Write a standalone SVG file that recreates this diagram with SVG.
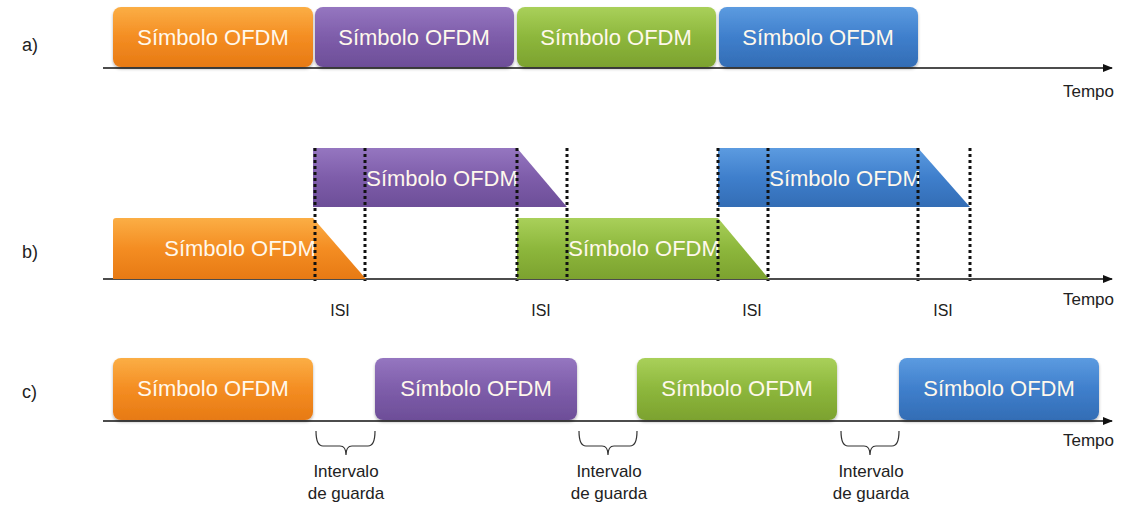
<svg xmlns="http://www.w3.org/2000/svg" width="1129" height="508" viewBox="0 0 1129 508">
<style>
.sym{font-family:"Liberation Sans",Arial,sans-serif;font-size:22px;fill:#FFF8EC;text-anchor:middle}
.lbl{font-family:"Liberation Sans",Arial,sans-serif;font-size:16px;fill:#222;text-anchor:middle}
.gl{font-family:"Liberation Sans",Arial,sans-serif;font-size:17px;fill:#222;text-anchor:middle}
.tm{font-family:"Liberation Sans",Arial,sans-serif;font-size:17px;fill:#222}
.row{font-family:"Liberation Sans",Arial,sans-serif;font-size:18px;fill:#222}
.axis{stroke:#111;stroke-width:1.3;fill:none}
.dot{stroke:#111;stroke-width:3;stroke-dasharray:3 3;fill:none}
.brace{stroke:#333;stroke-width:1.2;fill:none}
</style>
<defs>
<linearGradient id="gO" x1="0" y1="0" x2="0" y2="1"><stop offset="0" stop-color="#FBAE45"/><stop offset="0.5" stop-color="#F48D22"/><stop offset="1" stop-color="#E77A14"/></linearGradient>
<linearGradient id="gP" x1="0" y1="0" x2="0" y2="1"><stop offset="0" stop-color="#9576C0"/><stop offset="0.5" stop-color="#7E5DAA"/><stop offset="1" stop-color="#6D4E98"/></linearGradient>
<linearGradient id="gG" x1="0" y1="0" x2="0" y2="1"><stop offset="0" stop-color="#A9D05A"/><stop offset="0.5" stop-color="#8DB73C"/><stop offset="1" stop-color="#7CA22F"/></linearGradient>
<linearGradient id="gB" x1="0" y1="0" x2="0" y2="1"><stop offset="0" stop-color="#5C9BE0"/><stop offset="0.5" stop-color="#3F7FCC"/><stop offset="1" stop-color="#336DB5"/></linearGradient>
<filter id="sh" x="-5%" y="-10%" width="110%" height="130%"><feDropShadow dx="0" dy="2" stdDeviation="1.5" flood-color="#000" flood-opacity="0.3"/></filter>
<marker id="arr" markerWidth="10" markerHeight="8" refX="9" refY="4" orient="auto" markerUnits="userSpaceOnUse"><path d="M0,0 L10,4 L0,8 Z" fill="#111"/></marker>
<clipPath id="c1"><rect x="113" y="218" width="201" height="62"/></clipPath>
<clipPath id="c2"><rect x="313" y="148" width="205" height="60"/></clipPath>
<clipPath id="c3"><rect x="517" y="218" width="202" height="62"/></clipPath>
<clipPath id="c4"><rect x="718" y="148" width="201" height="60"/></clipPath>
</defs>
<rect width="1129" height="508" fill="#fff"/>

<text class="row" x="22" y="51">a)</text>
<text class="row" x="22" y="258">b)</text>
<text class="row" x="22" y="398">c)</text>

<g id="connectors">
<line class="axis" x1="103" y1="68" x2="1112" y2="68" marker-end="url(#arr)"/>
<line class="axis" x1="103" y1="279" x2="1112" y2="279" marker-end="url(#arr)"/>
<line class="axis" x1="103" y1="421" x2="1112" y2="421" marker-end="url(#arr)"/>
</g>

<g id="a-orange"><rect x="113" y="7" width="200" height="60" rx="8" fill="url(#gO)" filter="url(#sh)"/><text class="sym" x="213" y="45">Símbolo OFDM</text></g>
<g id="a-purple"><rect x="315" y="7" width="199" height="60" rx="8" fill="url(#gP)" filter="url(#sh)"/><text class="sym" x="414" y="45">Símbolo OFDM</text></g>
<g id="a-green"><rect x="517" y="7" width="199" height="60" rx="8" fill="url(#gG)" filter="url(#sh)"/><text class="sym" x="616" y="45">Símbolo OFDM</text></g>
<g id="a-blue"><rect x="719" y="7" width="199" height="60" rx="8" fill="url(#gB)" filter="url(#sh)"/><text class="sym" x="818" y="45">Símbolo OFDM</text></g>
<text class="tm" x="1063" y="97">Tempo</text>

<g id="b-orange"><path d="M113,221 Q113,218 116,218 L313,218 L366,279 L113,279 Z" fill="url(#gO)"/><text class="sym" x="240" y="256" clip-path="url(#c1)">Símbolo OFDM</text></g>
<g id="b-purple"><path d="M313,148 L517,148 L567,207 L313,207 Z" fill="url(#gP)"/><text class="sym" x="442" y="186" clip-path="url(#c2)">Símbolo OFDM</text></g>
<g id="b-green"><path d="M517,218 L718,218 L769,279 L517,279 Z" fill="url(#gG)"/><text class="sym" x="644" y="256" clip-path="url(#c3)">Símbolo OFDM</text></g>
<g id="b-blue"><path d="M718,148 L918,148 L970,207 L718,207 Z" fill="url(#gB)"/><text class="sym" x="845" y="186" clip-path="url(#c4)">Símbolo OFDM</text></g>
<g id="b-dots">
<line class="dot" x1="315" y1="148" x2="315" y2="281"/>
<line class="dot" x1="365" y1="148" x2="365" y2="281"/>
<line class="dot" x1="517" y1="148" x2="517" y2="281"/>
<line class="dot" x1="567" y1="148" x2="567" y2="281"/>
<line class="dot" x1="718" y1="148" x2="718" y2="281"/>
<line class="dot" x1="768" y1="148" x2="768" y2="281"/>
<line class="dot" x1="918" y1="148" x2="918" y2="281"/>
<line class="dot" x1="970" y1="148" x2="970" y2="281"/>
</g>
<text class="lbl" x="340" y="316">ISI</text>
<text class="lbl" x="541" y="316">ISI</text>
<text class="lbl" x="752" y="316">ISI</text>
<text class="lbl" x="943" y="316">ISI</text>
<text class="tm" x="1063" y="305">Tempo</text>

<g id="c-orange"><rect x="113" y="358" width="200" height="62" rx="8" fill="url(#gO)" filter="url(#sh)"/><text class="sym" x="213" y="396">Símbolo OFDM</text></g>
<g id="c-purple"><rect x="375" y="358" width="202" height="62" rx="8" fill="url(#gP)" filter="url(#sh)"/><text class="sym" x="476" y="396">Símbolo OFDM</text></g>
<g id="c-green"><rect x="637" y="358" width="200" height="62" rx="8" fill="url(#gG)" filter="url(#sh)"/><text class="sym" x="737" y="396">Símbolo OFDM</text></g>
<g id="c-blue"><rect x="899" y="358" width="200" height="62" rx="8" fill="url(#gB)" filter="url(#sh)"/><text class="sym" x="999" y="396">Símbolo OFDM</text></g>
<g id="guards">
<path class="brace" d="M316,431 Q316,446 323,446 L340,446 Q346,446 346,455 Q346,446 352,446 L368,446 Q375,446 375,431"/>
<path class="brace" d="M579,431 Q579,446 586,446 L602,446 Q608,446 608,455 Q608,446 614,446 L630,446 Q637,446 637,431"/>
<path class="brace" d="M841,431 Q841,446 848,446 L864,446 Q870,446 870,455 Q870,446 876,446 L892,446 Q899,446 899,431"/>
<text class="gl" x="346" y="477">Intervalo</text><text class="gl" x="346" y="499">de guarda</text>
<text class="gl" x="609" y="477">Intervalo</text><text class="gl" x="609" y="499">de guarda</text>
<text class="gl" x="871" y="477">Intervalo</text><text class="gl" x="871" y="499">de guarda</text>
</g>
<text class="tm" x="1063" y="446">Tempo</text>
</svg>
